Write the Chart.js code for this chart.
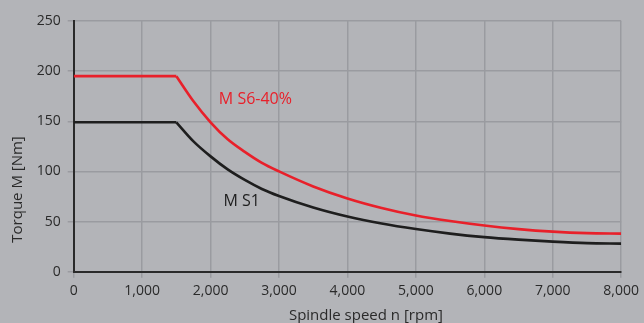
<!DOCTYPE html>
<html>
<head>
<meta charset="utf-8">
<script src="https://cdn.jsdelivr.net/npm/chart.js@4.4.0/dist/chart.umd.min.js"></script>
<style>
  html, body { margin: 0; padding: 0; background: #b3b4b8; }
  #wrap { width: 644px; height: 323px; position: relative; }
</style>
</head>
<body>
<div id="wrap"><canvas id="torqueChart"></canvas></div>
<script>
// spindle speed [rpm] and torque [Nm] for both duty cycles
const speed = [0, 1500, 1750, 2000, 2250, 2500, 2750, 3000, 3500, 4000, 4500, 5000, 5500, 6000, 6500, 7000, 7500, 8000];
const torqueS6 = [195, 195, 170, 149, 132, 119.5, 108.5, 100, 85, 73, 63.5, 56, 50.5, 46, 42.5, 40, 38.5, 38];
const torqueS1 = [149, 149, 130, 115, 102, 91.5, 82.5, 75.5, 64, 55, 48, 42.5, 38, 34.5, 32, 30, 28.5, 28];

const xTicks = [0, 1000, 2000, 3000, 4000, 5000, 6000, 7000, 8000];
const yTicks = [0, 50, 100, 150, 200, 250];

// curve labels, anchored in data units (baseline)
const curveLabels = [
  { text: 'M S6-40%', x: 2121, y: 167.5, color: '#e8202a' },
  { text: 'M S1', x: 2189, y: 65.5, color: '#1e1e1e' }
];

const FONT = "'Open Sans', sans-serif";
const TEXT = '#2a2a2a';
const GRID = '#9a9ba0';

// the constant-torque part is straight, the field-weakening part is a smooth curve
function flatPart(ys) {
  return [{ x: speed[0], y: ys[0] }, { x: speed[1], y: ys[1] }];
}
function curvePart(ys) {
  return speed.slice(1).map(function (s, i) { return { x: s, y: ys[i + 1] }; });
}

function lineSet(label, points, color, curved) {
  return {
    label: label,
    data: points,
    borderColor: color,
    borderWidth: 2.6,
    pointRadius: 0,
    cubicInterpolationMode: curved ? 'monotone' : 'default',
    tension: 0
  };
}

const annotations = {
  id: 'annotations',
  afterDatasetsDraw: function (chart) {
    const ctx = chart.ctx;
    const xs = chart.scales.x, ys = chart.scales.y;
    ctx.save();
    ctx.textBaseline = 'alphabetic';

    ctx.font = '16px ' + FONT;
    ctx.textAlign = 'left';
    curveLabels.forEach(function (l) {
      ctx.fillStyle = l.color;
      ctx.fillText(l.text, xs.getPixelForValue(l.x), ys.getPixelForValue(l.y));
    });

    // axis titles
    ctx.fillStyle = TEXT;
    ctx.font = '15px ' + FONT;
    ctx.textAlign = 'center';
    ctx.fillText('Spindle speed n [rpm]', xs.getPixelForValue(4270), chart.height - 3);

    ctx.translate(22, ys.getPixelForValue(82));
    ctx.rotate(-Math.PI / 2);
    ctx.fillText('Torque M [Nm]', 0, 0);
    ctx.restore();
  }
};

const ctx = document.getElementById('torqueChart').getContext('2d');
new Chart(ctx, {
  type: 'line',
  data: {
    datasets: [
      lineSet('M S6-40%', flatPart(torqueS6), '#e8202a', false),
      lineSet('M S6-40%', curvePart(torqueS6), '#e8202a', true),
      lineSet('M S1', flatPart(torqueS1), '#1e1e1e', false),
      lineSet('M S1', curvePart(torqueS1), '#1e1e1e', true)
    ]
  },
  options: {
    responsive: true,
    maintainAspectRatio: false,
    animation: false,
    layout: { padding: { top: 21, right: 21, left: 0, bottom: 0 } },
    plugins: {
      legend: { display: false },
      tooltip: { enabled: false }
    },
    scales: {
      x: {
        type: 'linear',
        min: 0,
        max: 8000,
        afterBuildTicks: function (scale) {
          scale.ticks = xTicks.map(function (v) { return { value: v }; });
        },
        afterFit: function (scale) { scale.height = 51.3; },
        grid: { color: GRID, lineWidth: 1.5, tickLength: 6, tickColor: GRID },
        border: { color: TEXT, width: 2 },
        ticks: {
          color: TEXT,
          font: { family: FONT, size: 14 },
          padding: 5,
          maxRotation: 0,
          callback: function (v) { return v.toLocaleString('en-US'); }
        }
      },
      y: {
        min: 0,
        max: 250,
        afterBuildTicks: function (scale) {
          scale.ticks = yTicks.map(function (v) { return { value: v }; });
        },
        afterFit: function (scale) { scale.width = 73.7; },
        grid: { color: GRID, lineWidth: 1.5, tickLength: 6, tickColor: GRID },
        border: { color: TEXT, width: 2 },
        ticks: {
          color: TEXT,
          font: { family: FONT, size: 14 },
          padding: 7
        }
      }
    }
  },
  plugins: [annotations]
});
</script>
</body>
</html>
